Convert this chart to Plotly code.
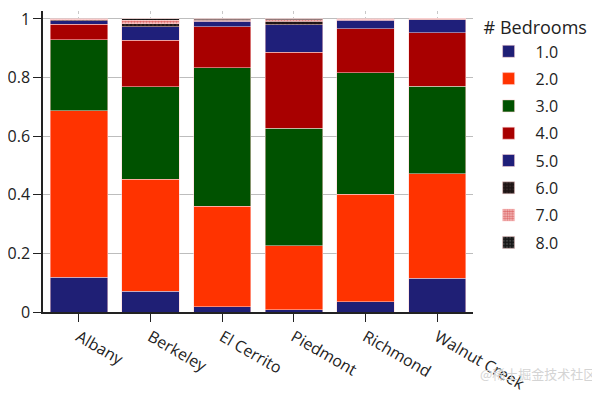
import plotly.graph_objects as go

cities = ["Albany", "Berkeley", "El Cerrito", "Piedmont", "Richmond", "Walnut Creek"]
bedrooms = ["1.0", "2.0", "3.0", "4.0", "5.0", "6.0", "7.0", "8.0"]

# share of listings per bedroom count, per city (each column sums to 1)
share_1 = [0.118, 0.071, 0.018, 0.008, 0.035, 0.115]
share_2 = [0.568, 0.382, 0.343, 0.218, 0.367, 0.356]
share_3 = [0.243, 0.315, 0.473, 0.401, 0.415, 0.299]
share_4 = [0.053, 0.159, 0.139, 0.259, 0.149, 0.182]
share_5 = [0.012, 0.047, 0.019, 0.094, 0.030, 0.046]
share_6 = [0.003, 0.009, 0.004, 0.012, 0.002, 0.001]
share_7 = [0.002, 0.012, 0.002, 0.006, 0.001, 0.001]
share_8 = [0.001, 0.005, 0.002, 0.002, 0.001, 0.000]

series = [share_1, share_2, share_3, share_4, share_5, share_6, share_7, share_8]

colors = ["#1f1f75", "#ff3300", "#005200", "#a80000", "#1f1f7a", "#1e1414", "#f0b8b8", "#161616"]
patterns = [
    None, None, None, None, None,
    dict(shape=".", fgcolor="#4a3838", bgcolor="#1e1414", size=4, solidity=0.3),
    dict(shape=".", fgcolor="#c81010", bgcolor="#f4c4c4", size=3, solidity=0.55),
    dict(shape=".", fgcolor="#6a6a6a", bgcolor="#161616", size=4, solidity=0.3),
]

fig = go.Figure()
for name, vals, col, pat in zip(bedrooms, series, colors, patterns):
    marker = dict(color=col, line=dict(color="rgba(255,210,210,0.75)", width=0.7))
    if pat is not None:
        marker["pattern"] = pat
    fig.add_trace(go.Bar(x=cities, y=vals, name=name, marker=marker,
                         legendgroup=name))

fig.update_layout(
    width=592, height=387,
    barmode="stack", bargap=0.2,
    paper_bgcolor="white", plot_bgcolor="white",
    margin=dict(l=27, r=127, t=0, b=82),
    font=dict(family="Open Sans", size=16, color="#222"),
    legend=dict(
        title=dict(text="# Bedrooms", font=dict(size=18)),
        traceorder="grouped", tracegroupgap=3.5,
        itemwidth=44,
        x=1.02, xanchor="left", y=1.0, yanchor="top",
        font=dict(size=16),
        bgcolor="rgba(0,0,0,0)",
    ),
    xaxis=dict(
        range=[-0.5, 5.5], tickangle=30,
        showline=True, linecolor="#222", linewidth=1.5,
        ticks="outside", ticklen=8, tickcolor="#222",
        showgrid=True, gridcolor="#c8c8c8", griddash="dot", gridwidth=1,
        tickfont=dict(size=16),
    ),
    yaxis=dict(
        range=[0, 1.027],
        tickvals=[0, 0.2, 0.4, 0.6, 0.8, 1.0],
        ticktext=["0", "0.2", "0.4", "0.6", "0.8", "1"],
        ticklabeloverflow="allow",
        showline=True, linecolor="#222", linewidth=1.5,
        ticks="outside", ticklen=8, tickcolor="#222",
        showgrid=True, gridcolor="#bdbdbd", gridwidth=1,
        zeroline=False, tickfont=dict(size=16),
    ),
    annotations=[dict(
        text="@稀土掘金技术社区", xref="paper", yref="paper",
        x=1.29, y=-0.205, xanchor="right", yanchor="middle", showarrow=False,
        font=dict(family="Noto Sans CJK SC", size=13, color="#d4d4d4"),
    )],
)

fig.write_html("out.html")
